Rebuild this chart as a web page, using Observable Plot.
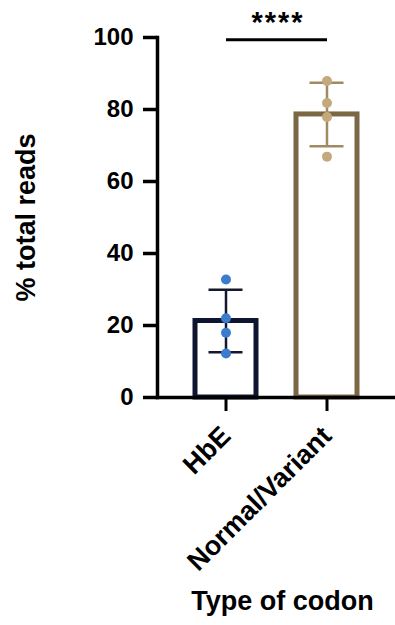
<!DOCTYPE html>
<html>
<head>
<meta charset="utf-8">
<script src="https://cdn.jsdelivr.net/npm/d3@7"></script>
<script src="https://cdn.jsdelivr.net/npm/@observablehq/plot@0.6"></script>
<style>
  html, body { margin: 0; padding: 0; background: #fff; }
  #chart svg { display: block; font-family: "Liberation Sans", Arial, sans-serif; }
  .stars text { letter-spacing: 2px; }
</style>
</head>
<body>
<div id="chart"></div>
<script>
const categories = ["HbE", "Normal/Variant"];
const hbeValues = [32.8, 22.0, 18.0, 12.2];
const normalValues = [87.9, 81.8, 77.9, 66.9];
const yTicks = [0, 20, 40, 60, 80, 100];
const significance = "****";
const yTitle = "% total reads";
const xTitle = "Type of codon";

const seriesValues = [hbeValues, normalValues];
const points = categories.flatMap((c, i) => seriesValues[i].map(v => ({cat: c, value: v})));
const summary = categories.map((c, i) => {
  const m = d3.mean(seriesValues[i]);
  const s = d3.deviation(seriesValues[i]);
  return {cat: c, mean: m, lo: m - s, hi: m + s};
});

const barStroke = {"HbE": "#0f1430", "Normal/Variant": "#7c6744"};
const errStroke = {"HbE": "#14182e", "Normal/Variant": "#a08a62"};
const dotFill = {"HbE": "#3b7dcc", "Normal/Variant": "#c4a97c"};

const chart = Plot.plot({
  width: 395,
  height: 625,
  marginLeft: 157,
  marginRight: 0,
  marginTop: 37,
  marginBottom: 228,
  style: {fontFamily: "Liberation Sans, Arial, sans-serif", color: "#000"},
  x: {domain: categories, paddingInner: 0.392, paddingOuter: 0.363, align: 0.5, label: null},
  y: {domain: [0, 100], label: null},
  marks: [
    Plot.barY(summary, {x: "cat", y: "mean", fill: "#fff", stroke: d => barStroke[d.cat], strokeWidth: 5}),
    Plot.ruleX(summary, {x: "cat", y1: "lo", y2: "hi", stroke: d => errStroke[d.cat], strokeWidth: 2.5}),
    Plot.tickY(summary, {x: "cat", y: "hi", stroke: d => errStroke[d.cat], strokeWidth: 2.5, insetLeft: 13.5, insetRight: 13.5}),
    Plot.tickY(summary, {x: "cat", y: "lo", stroke: d => errStroke[d.cat], strokeWidth: 2.5, insetLeft: 13.5, insetRight: 13.5}),
    Plot.dot(points, {x: "cat", y: "value", r: 5, fill: d => dotFill[d.cat], stroke: "none"}),
    Plot.frame({anchor: "left", stroke: "#000", strokeWidth: 3.5}),
    Plot.frame({anchor: "bottom", stroke: "#000", strokeWidth: 3.5}),
    Plot.axisY({ticks: yTicks, tickSize: 14, tickPadding: 10, strokeWidth: 3.5, fontSize: 24, fontWeight: "bold", label: null}),
    Plot.axisX({tickSize: 14, tickPadding: 20, strokeWidth: 3, tickRotate: -45, fontSize: 27, fontWeight: "bold", label: null}),
    Plot.link([{x1: categories[0], x2: categories[1], y: 99.4}], {x1: "x1", x2: "x2", y1: "y", y2: "y", stroke: "#000", strokeWidth: 3}),
    Plot.text([significance], {x: () => categories[0], dx: 52, y: () => 104.0, text: d => d, fontSize: 29, fontWeight: "bold", className: "stars"}),
    Plot.text([yTitle], {frameAnchor: "left", textAnchor: "middle", rotate: -90, dx: -131, text: d => d, fontSize: 27, fontWeight: "bold"}),
    Plot.text([xTitle], {frameAnchor: "bottom", dx: 6, dy: 212, text: d => d, fontSize: 27, fontWeight: "bold"})
  ]
});
document.getElementById("chart").appendChild(chart);
</script>
</body>
</html>
